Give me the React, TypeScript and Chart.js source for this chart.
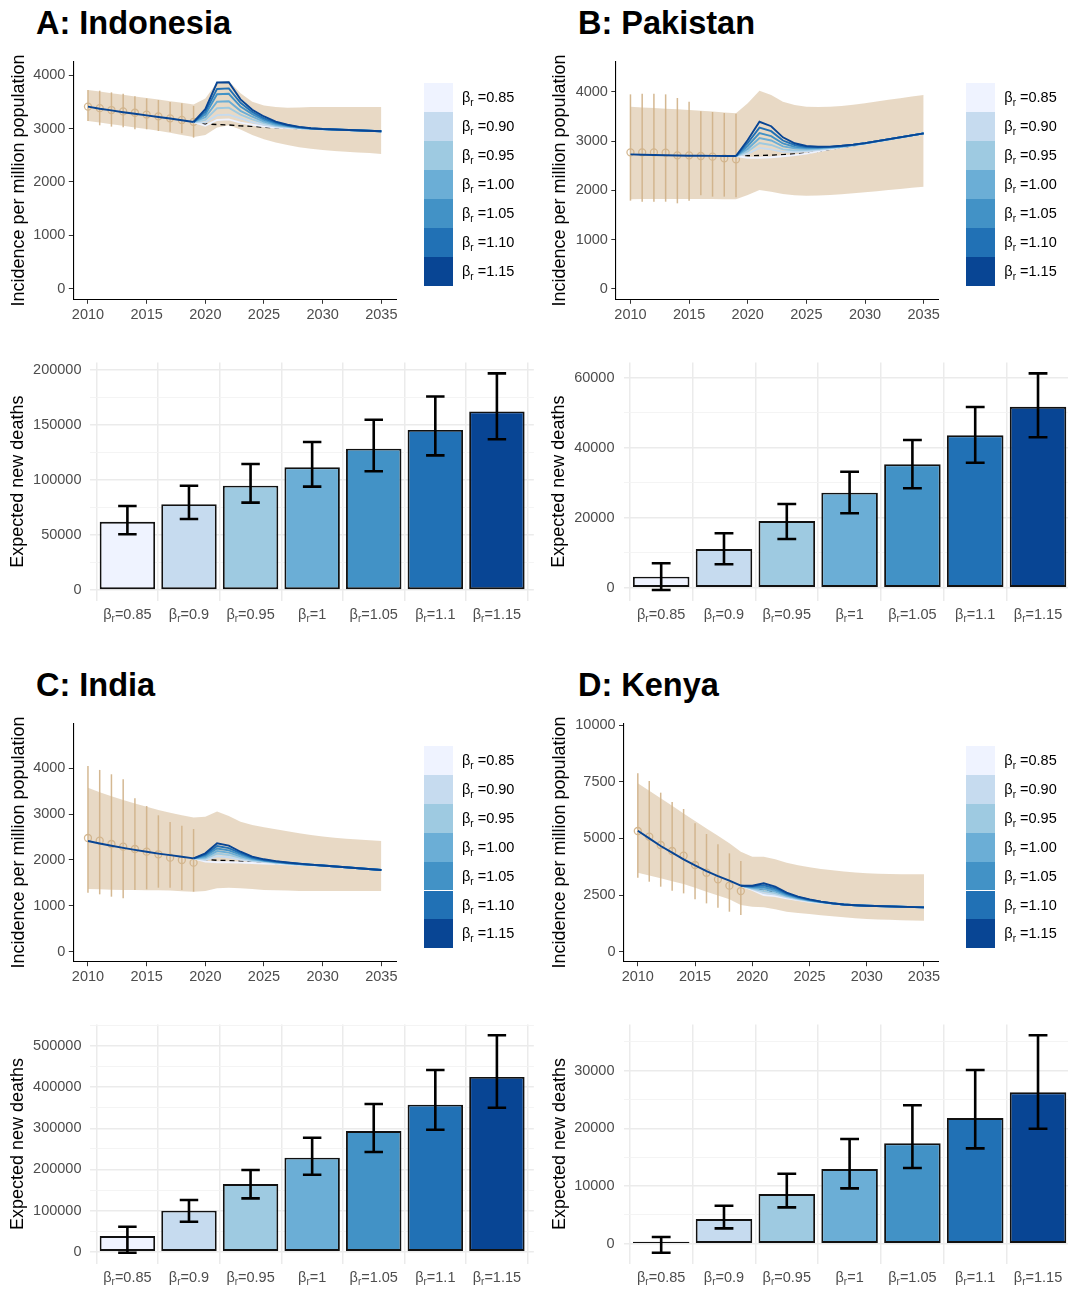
import React, { useEffect, useRef } from 'react';
import { Chart, registerables } from 'chart.js';

Chart.register(...registerables);

const FONT = '"Liberation Sans", Arial, Helvetica, sans-serif';
Chart.defaults.font.family = FONT;

// ---------- shared styling / labels ----------
const BLUES = ['#EFF3FF', '#C6DBEF', '#9ECAE1', '#6BAED6', '#4292C6', '#2171B5', '#084594'];
const BAND_FILL = 'rgba(210,180,140,0.5)';
const OBS_COLOR = 'rgba(210,180,140,0.95)';
const TICK_GREY = '#4D4D4D';

const LEGEND_LABELS = ['0.85', '0.90', '0.95', '1.00', '1.05', '1.10', '1.15'];
const BAR_LABELS = ['0.85', '0.9', '0.95', '1', '1.05', '1.1', '1.15'];

const OBS_YEARS = [2010, 2011, 2012, 2013, 2014, 2015, 2016, 2017, 2018, 2019];
const BAND_YEARS = [2010, 2011, 2012, 2013, 2014, 2015, 2016, 2017, 2018, 2019, 2020, 2021, 2022,
  2023, 2024, 2025, 2026, 2027, 2028, 2029, 2030, 2031, 2032, 2033, 2034, 2035];
const PROJ_YEARS = [2019, 2020, 2021, 2022, 2023, 2024, 2025, 2026, 2027, 2028, 2029, 2030, 2035];
const X_TICKS = [2010, 2015, 2020, 2025, 2030, 2035];
const Y_TICKS_4K = [0, 1000, 2000, 3000, 4000];
const Y_TICKS_10K = [0, 2500, 5000, 7500, 10000];

// ---------- A: Indonesia ----------
const IDN_OBS = [3410, 3380, 3345, 3320, 3295, 3260, 3228, 3190, 3160, 3125];
const IDN_OBS_LO = [3140, 3060, 3035, 3022, 2985, 2985, 2953, 2941, 2910, 2829];
const IDN_OBS_HI = [3720, 3707, 3676, 3651, 3601, 3564, 3533, 3496, 3471, 3421];
const IDN_FIT = [3408, 3370, 3338, 3305, 3275, 3245, 3215, 3188, 3155, 3122];
const IDN_BAND_LO = [3140, 3110, 3080, 3050, 3020, 2990, 2960, 2920, 2880, 2840, 2880, 3020, 3060, 2980,
  2880, 2800, 2740, 2690, 2650, 2620, 2600, 2580, 2565, 2550, 2540, 2525];
const IDN_BAND_HI = [3720, 3690, 3660, 3630, 3600, 3570, 3540, 3510, 3480, 3450, 3560, 3860, 3890, 3660,
  3500, 3430, 3400, 3390, 3395, 3400, 3400, 3400, 3400, 3400, 3400, 3400];
const IDN_DASH = [3122, 3085, 3075, 3065, 3050, 3040, 3025, 3015, 3005, 2998, 2992, 2985, 2950];
const IDN_S085 = [3122, 3050, 3160, 3170, 3110, 3070, 3040, 3020, 3010, 3000, 2992, 2985, 2950];
const IDN_S090 = [3122, 3110, 3250, 3260, 3190, 3120, 3070, 3035, 3020, 3005, 2994, 2986, 2950];
const IDN_S095 = [3122, 3160, 3380, 3390, 3260, 3170, 3100, 3050, 3030, 3010, 2996, 2987, 2950];
const IDN_S100 = [3122, 3210, 3500, 3510, 3330, 3220, 3130, 3070, 3040, 3015, 2998, 2988, 2950];
const IDN_S105 = [3122, 3260, 3640, 3650, 3410, 3270, 3160, 3090, 3050, 3020, 3000, 2989, 2950];
const IDN_S110 = [3122, 3310, 3740, 3750, 3480, 3310, 3190, 3110, 3060, 3025, 3002, 2990, 2950];
const IDN_S115 = [3122, 3360, 3860, 3865, 3545, 3350, 3225, 3130, 3070, 3030, 3005, 2990, 2950];
const IDN_DEATHS = [62000, 78000, 94800, 111500, 128500, 145500, 162400];
const IDN_DEATHS_LO = [50600, 64500, 79400, 94000, 108000, 122400, 137000];
const IDN_DEATHS_HI = [76400, 94800, 114500, 134500, 154800, 176000, 197000];
const IDN_BAR_MAJOR = [0, 50000, 100000, 150000, 200000];
const IDN_BAR_MINOR = [25000, 75000, 125000, 175000];

// ---------- B: Pakistan ----------
const PAK_OBS = [2770, 2770, 2770, 2764, 2710, 2710, 2696, 2683, 2649, 2629];
const PAK_OBS_LO = [1791, 1770, 1770, 1770, 1737, 1791, 1899, 1872, 1872, 1858];
const PAK_OBS_HI = [3946, 3960, 3960, 3946, 3872, 3797, 3601, 3588, 3568, 3554];
const PAK_FIT = [2730, 2722, 2716, 2710, 2705, 2702, 2700, 2698, 2697, 2696];
const PAK_BAND_LO = [1820, 1822, 1823, 1824, 1825, 1825, 1824, 1823, 1820, 1818, 1905, 2007, 1973, 1926,
  1899, 1892, 1895, 1905, 1920, 1940, 1960, 1982, 2005, 2028, 2051, 2074];
const PAK_BAND_HI = [3696, 3680, 3667, 3655, 3642, 3630, 3615, 3600, 3580, 3561, 3764, 4020, 3932, 3797,
  3730, 3696, 3689, 3695, 3710, 3735, 3764, 3800, 3835, 3868, 3900, 3932];
const PAK_DASH = [2696, 2700, 2706, 2714, 2724, 2738, 2755, 2790, 2830, 2868, 2905, 2943, 3150];
const PAK_S085 = [2696, 2660, 2660, 2670, 2690, 2715, 2745, 2790, 2835, 2872, 2908, 2945, 3150];
const PAK_S090 = [2696, 2740, 2860, 2830, 2780, 2780, 2790, 2815, 2845, 2878, 2912, 2948, 3152];
const PAK_S095 = [2696, 2790, 2960, 2920, 2830, 2810, 2815, 2835, 2858, 2884, 2915, 2950, 3153];
const PAK_S100 = [2696, 2840, 3060, 3010, 2890, 2850, 2840, 2850, 2868, 2890, 2918, 2952, 3154];
const PAK_S105 = [2696, 2900, 3160, 3100, 2950, 2880, 2860, 2865, 2876, 2895, 2921, 2954, 3155];
const PAK_S110 = [2696, 2960, 3270, 3200, 3010, 2920, 2880, 2875, 2882, 2900, 2924, 2956, 3155];
const PAK_S115 = [2696, 3020, 3390, 3300, 3075, 2955, 2900, 2885, 2887, 2903, 2926, 2958, 3156];
const PAK_DEATHS = [3140, 11050, 19050, 27140, 35250, 43540, 51700];
const PAK_DEATHS_LO = [-660, 6690, 13910, 21260, 28400, 35710, 42970];
const PAK_DEATHS_HI = [6970, 15540, 23910, 33140, 42200, 51630, 61260];
const PAK_BAR_MAJOR = [0, 20000, 40000, 60000];
const PAK_BAR_MINOR = [10000, 30000, 50000];

// ---------- C: India ----------
const IND_OBS = [2480, 2422, 2349, 2291, 2240, 2182, 2124, 2051, 2000, 1942];
const IND_OBS_LO = [1287, 1251, 1200, 1164, 1345, 1360, 1396, 1396, 1345, 1309];
const IND_OBS_HI = [4051, 3964, 3869, 3760, 3345, 3178, 2975, 2829, 2749, 2676];
const IND_FIT = [2415, 2360, 2310, 2265, 2220, 2180, 2140, 2105, 2070, 2036];
const IND_BAND_LO = [1367, 1360, 1352, 1345, 1343, 1342, 1340, 1335, 1320, 1309, 1324, 1382, 1396, 1385,
  1365, 1345, 1338, 1332, 1326, 1324, 1324, 1324, 1324, 1324, 1324, 1324];
const IND_BAND_HI = [3578, 3480, 3390, 3310, 3230, 3160, 3090, 3030, 2975, 2924, 2945, 3055, 2960, 2836,
  2765, 2713, 2670, 2625, 2585, 2545, 2510, 2485, 2465, 2445, 2430, 2415];
const IND_DASH = [2036, 2010, 1995, 1985, 1970, 1955, 1940, 1925, 1912, 1900, 1888, 1876, 1782];
const IND_S085 = [2036, 1965, 1950, 1950, 1945, 1935, 1925, 1915, 1905, 1895, 1885, 1874, 1782];
const IND_S090 = [2036, 2000, 2080, 2060, 2010, 1975, 1955, 1935, 1918, 1902, 1889, 1876, 1782];
const IND_S095 = [2036, 2030, 2140, 2110, 2045, 1995, 1970, 1945, 1925, 1906, 1891, 1877, 1782];
const IND_S100 = [2036, 2060, 2195, 2160, 2080, 2015, 1980, 1952, 1930, 1910, 1893, 1878, 1782];
const IND_S105 = [2036, 2090, 2250, 2210, 2115, 2035, 1990, 1960, 1935, 1914, 1895, 1879, 1782];
const IND_S110 = [2036, 2115, 2305, 2260, 2150, 2055, 2000, 1968, 1940, 1917, 1897, 1880, 1782];
const IND_S115 = [2036, 2145, 2365, 2313, 2180, 2075, 2015, 1975, 1945, 1920, 1899, 1880, 1782];
const IND_DEATHS = [38200, 99700, 164600, 228500, 293500, 357400, 424800];
const IND_DEATHS_LO = [-2400, 72900, 129800, 187200, 242400, 296600, 350100];
const IND_DEATHS_HI = [60800, 125700, 198600, 277200, 359100, 441800, 526100];
const IND_BAR_MAJOR = [0, 100000, 200000, 300000, 400000, 500000];
const IND_BAR_MINOR = [50000, 150000, 250000, 350000, 450000, 550000];

// ---------- D: Kenya ----------
const KEN_OBS = [5324, 5074, 4706, 4441, 4235, 3824, 3485, 3191, 2912, 2676];
const KEN_OBS_LO = [3265, 3088, 2868, 2691, 2574, 2309, 2132, 1941, 1765, 1618];
const KEN_OBS_HI = [7868, 7529, 7015, 6603, 6294, 5662, 5191, 4735, 4338, 4000];
const KEN_FIT = [5338, 5000, 4662, 4368, 4074, 3809, 3559, 3338, 3132, 2912];
const KEN_BAND_LO = [3485, 3360, 3235, 3110, 2985, 2820, 2650, 2480, 2310, 2060, 1985, 1956, 1868, 1765,
  1710, 1662, 1610, 1565, 1520, 1478, 1441, 1420, 1405, 1390, 1378, 1368];
const KEN_BAND_HI = [7426, 7100, 6770, 6440, 6100, 5770, 5440, 5110, 4780, 4412, 4191, 4191, 4074, 3926,
  3810, 3721, 3650, 3590, 3540, 3495, 3456, 3440, 3430, 3420, 3415, 3412];
const KEN_DASH = [2912, 2800, 2700, 2620, 2480, 2370, 2270, 2190, 2130, 2075, 2050, 2030, 1956];
const KEN_S085 = [2912, 2725, 2500, 2455, 2355, 2280, 2205, 2162, 2120, 2075, 2050, 2030, 1956];
const KEN_S090 = [2912, 2760, 2585, 2525, 2395, 2305, 2223, 2171, 2123, 2076, 2050, 2030, 1956];
const KEN_S095 = [2912, 2790, 2670, 2590, 2440, 2330, 2240, 2180, 2126, 2077, 2051, 2030, 1956];
const KEN_S100 = [2912, 2820, 2760, 2660, 2480, 2355, 2258, 2188, 2129, 2078, 2051, 2030, 1956];
const KEN_S105 = [2912, 2850, 2845, 2730, 2525, 2380, 2276, 2196, 2132, 2079, 2052, 2030, 1956];
const KEN_S110 = [2912, 2880, 2930, 2800, 2565, 2405, 2293, 2203, 2134, 2080, 2052, 2030, 1956];
const KEN_S115 = [2912, 2910, 3015, 2870, 2605, 2430, 2310, 2210, 2135, 2080, 2052, 2030, 1956];
const KEN_DEATHS = [350, 4280, 8610, 12950, 17410, 21800, 26250];
const KEN_DEATHS_LO = [-1560, 2670, 6310, 9600, 13130, 16540, 19940];
const KEN_DEATHS_HI = [1160, 6590, 12140, 18150, 24000, 30120, 36140];
const KEN_BAR_MAJOR = [0, 10000, 20000, 30000];
const KEN_BAR_MINOR = [5000, 15000, 25000, 35000];

// ---------- panel layout ----------
const LINE_PANELS = [
  { id: 'A', canvas: { x: 0, y: 50, w: 540, h: 290 }, plot: { x: 73.3, y: 61.7, w: 322.7, h: 237.6 },
    yMin: -193, yMax: 4249, yTicks: Y_TICKS_4K, titleCenter: 18.9,
    obs: IDN_OBS, obsLo: IDN_OBS_LO, obsHi: IDN_OBS_HI, fit: IDN_FIT, bandLo: IDN_BAND_LO, bandHi: IDN_BAND_HI,
    dash: IDN_DASH, scen: [IDN_S085, IDN_S090, IDN_S095, IDN_S100, IDN_S105, IDN_S110, IDN_S115] },
  { id: 'B', canvas: { x: 540, y: 50, w: 528, h: 290 }, plot: { x: 615.8, y: 61.7, w: 322.5, h: 237.6 },
    yMin: -209, yMax: 4608, yTicks: Y_TICKS_4K, titleCenter: 20.2,
    obs: PAK_OBS, obsLo: PAK_OBS_LO, obsHi: PAK_OBS_HI, fit: PAK_FIT, bandLo: PAK_BAND_LO, bandHi: PAK_BAND_HI,
    dash: PAK_DASH, scen: [PAK_S085, PAK_S090, PAK_S095, PAK_S100, PAK_S105, PAK_S110, PAK_S115] },
  { id: 'C', canvas: { x: 0, y: 710, w: 540, h: 290 }, plot: { x: 73.3, y: 723.3, w: 322.7, h: 238.4 },
    yMin: -218, yMax: 4981, yTicks: Y_TICKS_4K, titleCenter: 18.9,
    obs: IND_OBS, obsLo: IND_OBS_LO, obsHi: IND_OBS_HI, fit: IND_FIT, bandLo: IND_BAND_LO, bandHi: IND_BAND_HI,
    dash: IND_DASH, scen: [IND_S085, IND_S090, IND_S095, IND_S100, IND_S105, IND_S110, IND_S115] },
  { id: 'D', canvas: { x: 540, y: 710, w: 528, h: 290 }, plot: { x: 623.5, y: 723.3, w: 314.8, h: 238.4 },
    yMin: -441, yMax: 10075, yTicks: Y_TICKS_10K, titleCenter: 20.2,
    obs: KEN_OBS, obsLo: KEN_OBS_LO, obsHi: KEN_OBS_HI, fit: KEN_FIT, bandLo: KEN_BAND_LO, bandHi: KEN_BAND_HI,
    dash: KEN_DASH, scen: [KEN_S085, KEN_S090, KEN_S095, KEN_S100, KEN_S105, KEN_S110, KEN_S115] },
];

const BAR_PANELS = [
  { id: 'A', canvas: { x: 0, y: 345, w: 540, h: 300 }, plot: { x: 90.45, y: 362.5, w: 443.4, h: 238.3 },
    yMin: -9850, yMax: 206850, major: IDN_BAR_MAJOR, minor: IDN_BAR_MINOR, titleCenter: 17.6,
    vals: IDN_DEATHS, lo: IDN_DEATHS_LO, hi: IDN_DEATHS_HI },
  { id: 'B', canvas: { x: 540, y: 345, w: 540, h: 300 }, plot: { x: 623.5, y: 362.5, w: 452.2, h: 238.3 },
    yMin: -3756, yMax: 64356, major: PAK_BAR_MAJOR, minor: PAK_BAR_MINOR, titleCenter: 19,
    vals: PAK_DEATHS, lo: PAK_DEATHS_LO, hi: PAK_DEATHS_HI },
  { id: 'C', canvas: { x: 0, y: 1005, w: 540, h: 285 }, plot: { x: 90.45, y: 1024.4, w: 443.4, h: 239.2 },
    yMin: -28825, yMax: 552525, major: IND_BAR_MAJOR, minor: IND_BAR_MINOR, titleCenter: 17.6,
    vals: IND_DEATHS, lo: IND_DEATHS_LO, hi: IND_DEATHS_HI },
  { id: 'D', canvas: { x: 540, y: 1005, w: 540, h: 285 }, plot: { x: 623.5, y: 1024.4, w: 452.2, h: 239.2 },
    yMin: -3445, yMax: 38025, major: KEN_BAR_MAJOR, minor: KEN_BAR_MINOR, titleCenter: 20,
    vals: KEN_DEATHS, lo: KEN_DEATHS_LO, hi: KEN_DEATHS_HI },
];

const TITLES = [
  { text: 'A: Indonesia', x: 36, baseline: 34.3 },
  { text: 'B: Pakistan', x: 578, baseline: 34.3 },
  { text: 'C: India', x: 36, baseline: 696 },
  { text: 'D: Kenya', x: 578, baseline: 696 },
];

const LEGENDS = [
  { x: 423.6, y: 83.3 },
  { x: 965.9, y: 83.3 },
  { x: 423.6, y: 746 },
  { x: 965.9, y: 746 },
];

function margins(c: any, p: any) {
  return {
    l: p.x - c.x,
    t: p.y - c.y,
    r: c.x + c.w - (p.x + p.w),
    b: c.y + c.h - (p.y + p.h),
  };
}

const pts = (xs: number[], ys: number[]) => xs.map((x, i) => ({ x, y: ys[i] }));

function LinePanel({ cfg }: { cfg: any }) {
  const ref = useRef<HTMLCanvasElement>(null);
  useEffect(() => {
    const m = margins(cfg.canvas, cfg.plot);
    const errPlugin = {
      id: 'obsErr' + cfg.id,
      beforeDatasetDraw(chart: any, args: any) {
        if (args.index !== 2) return;
        const { ctx, scales } = chart;
        ctx.save();
        ctx.strokeStyle = OBS_COLOR;
        ctx.lineWidth = 1.5;
        OBS_YEARS.forEach((yr, i) => {
          const px = scales.x.getPixelForValue(yr);
          ctx.beginPath();
          ctx.moveTo(px, scales.y.getPixelForValue(cfg.obsLo[i]));
          ctx.lineTo(px, scales.y.getPixelForValue(cfg.obsHi[i]));
          ctx.stroke();
        });
        ctx.restore();
      },
    };
    const datasets: any[] = [
      { data: pts(BAND_YEARS, cfg.bandLo), borderColor: 'rgba(0,0,0,0)', borderWidth: 0, pointRadius: 0, fill: false, order: 100 },
      { data: pts(BAND_YEARS, cfg.bandHi), borderColor: 'rgba(0,0,0,0)', borderWidth: 0, pointRadius: 0, fill: '-1', backgroundColor: BAND_FILL, order: 99 },
      { data: pts(OBS_YEARS, cfg.obs), showLine: false, pointRadius: 3.5, pointBorderWidth: 1.3, pointBorderColor: OBS_COLOR, pointBackgroundColor: 'rgba(0,0,0,0)', order: 60 },
      { data: pts(PROJ_YEARS, cfg.dash), borderColor: '#000', borderWidth: 1.4, borderDash: [5, 4], pointRadius: 0, fill: false, order: 50 },
      ...cfg.scen.map((s: number[], k: number) => ({
        data: pts(PROJ_YEARS, s), borderColor: BLUES[k], borderWidth: 1.9, pointRadius: 0, fill: false, order: 20 - k,
      })),
      { data: pts(OBS_YEARS, cfg.fit), borderColor: BLUES[6], borderWidth: 1.9, pointRadius: 0, fill: false, order: 1 },
    ];
    const chart = new Chart(ref.current as HTMLCanvasElement, {
      type: 'line',
      data: { datasets },
      options: {
        responsive: false,
        animation: false,
        events: [],
        layout: { padding: { left: 0, top: m.t, right: m.r, bottom: 0 } },
        plugins: { legend: { display: false }, tooltip: { enabled: false } },
        scales: {
          x: {
            type: 'linear', min: 2008.75, max: 2036.25, bounds: 'data',
            afterBuildTicks: (s: any) => { s.ticks = X_TICKS.map((v) => ({ value: v })); },
            afterFit: (s: any) => { s.height = m.b; s.paddingLeft = 0; s.paddingRight = 0; },
            ticks: { callback: (v: any) => String(v), color: TICK_GREY, font: { size: 14.5, family: FONT }, padding: 2, maxRotation: 0, autoSkip: false },
            grid: { drawOnChartArea: false, drawTicks: true, tickLength: 4.5, tickColor: '#333', tickWidth: 1 },
            border: { display: true, color: '#000', width: 1.1 },
          },
          y: {
            type: 'linear', min: cfg.yMin, max: cfg.yMax, bounds: 'data',
            afterBuildTicks: (s: any) => { s.ticks = cfg.yTicks.map((v: number) => ({ value: v })); },
            afterFit: (s: any) => { s.width = m.l; s.paddingTop = 0; s.paddingBottom = 0; },
            ticks: { callback: (v: any) => String(v), color: TICK_GREY, font: { size: 14.5, family: FONT }, padding: 3.4, autoSkip: false },
            grid: { drawOnChartArea: false, drawTicks: true, tickLength: 4.5, tickColor: '#333', tickWidth: 1 },
            border: { display: true, color: '#000', width: 1.1 },
            title: {
              display: true, text: 'Incidence per million population', color: '#000',
              font: { size: 18, family: FONT, lineHeight: 1.2 },
              padding: { top: cfg.titleCenter - 10.8, bottom: 0 },
            },
          },
        },
      } as any,
      plugins: [errPlugin],
    });
    return () => chart.destroy();
  }, []);
  const c = cfg.canvas;
  return (
    <canvas ref={ref} width={c.w} height={c.h}
      style={{ position: 'absolute', left: c.x, top: c.y, width: c.w, height: c.h }} />
  );
}

function BarPanel({ cfg }: { cfg: any }) {
  const ref = useRef<HTMLCanvasElement>(null);
  useEffect(() => {
    const m = margins(cfg.canvas, cfg.plot);
    const positions = BAR_LABELS.map((_, i) => i + 1);
    const allTicks = [...cfg.major, ...cfg.minor].sort((a: number, b: number) => a - b);
    const isMajor = (v: any) => cfg.major.includes(v);
    const barExtras = {
      id: 'barExtras' + cfg.id,
      afterDatasetsDraw(chart: any) {
        const { ctx, scales } = chart;
        const x = scales.x, y = scales.y;
        const half = x.getPixelForValue(1.15) - x.getPixelForValue(1);
        ctx.save();
        ctx.strokeStyle = '#000';
        ctx.lineWidth = 2.6;
        ctx.lineCap = 'butt';
        positions.forEach((pos, i) => {
          const cx = x.getPixelForValue(pos);
          const yl = y.getPixelForValue(cfg.lo[i]);
          const yh = y.getPixelForValue(cfg.hi[i]);
          ctx.beginPath();
          ctx.moveTo(cx, yl); ctx.lineTo(cx, yh);
          ctx.moveTo(cx - half, yl); ctx.lineTo(cx + half, yl);
          ctx.moveTo(cx - half, yh); ctx.lineTo(cx + half, yh);
          ctx.stroke();
        });
        ctx.restore();
      },
      afterDraw(chart: any) {
        const { ctx, scales, chartArea } = chart;
        const y0 = chartArea.bottom + 14.5;
        const big = `14.5px ${FONT}`;
        const small = `10px ${FONT}`;
        ctx.save();
        ctx.fillStyle = TICK_GREY;
        ctx.textBaseline = 'middle';
        ctx.textAlign = 'left';
        BAR_LABELS.forEach((lab, i) => {
          const cx = scales.x.getPixelForValue(positions[i]);
          ctx.font = big;
          const wB = ctx.measureText('β').width;
          const rest = '=' + lab;
          const wRest = ctx.measureText(rest).width;
          ctx.font = small;
          const wR = ctx.measureText('r').width;
          let xx = cx - (wB + wR + wRest) / 2;
          ctx.font = big; ctx.fillText('β', xx, y0); xx += wB;
          ctx.font = small; ctx.fillText('r', xx, y0 + 4); xx += wR;
          ctx.font = big; ctx.fillText(rest, xx, y0);
        });
        ctx.restore();
      },
    };
    const chart = new Chart(ref.current as HTMLCanvasElement, {
      type: 'bar',
      data: {
        datasets: [{
          data: pts(positions, cfg.vals),
          backgroundColor: BLUES,
          borderColor: '#111111',
          borderWidth: 1.9,
          borderSkipped: false,
          categoryPercentage: 1,
          barPercentage: 0.9,
        }],
      },
      options: {
        responsive: false,
        animation: false,
        events: [],
        layout: { padding: { left: 0, top: m.t, right: m.r, bottom: 0 } },
        plugins: { legend: { display: false }, tooltip: { enabled: false } },
        scales: {
          x: {
            type: 'linear', min: 0.4, max: 7.6, bounds: 'data', offset: false,
            afterBuildTicks: (s: any) => { s.ticks = positions.map((v) => ({ value: v })); },
            afterFit: (s: any) => { s.height = m.b; s.paddingLeft = 0; s.paddingRight = 0; },
            ticks: { display: false },
            grid: { display: true, drawOnChartArea: true, drawTicks: false, color: '#EBEBEB', lineWidth: 1.5 },
            border: { display: false },
          },
          y: {
            type: 'linear', min: cfg.yMin, max: cfg.yMax, bounds: 'data',
            afterBuildTicks: (s: any) => { s.ticks = allTicks.map((v: number) => ({ value: v })); },
            afterFit: (s: any) => { s.width = m.l; s.paddingTop = 0; s.paddingBottom = 0; },
            ticks: {
              callback: (v: any) => (isMajor(v) ? String(v) : ''),
              color: TICK_GREY, font: { size: 14.5, family: FONT }, padding: 9, autoSkip: false,
            },
            grid: {
              drawTicks: false,
              color: (ctx: any) => (ctx.tick && isMajor(ctx.tick.value) ? '#EBEBEB' : '#F3F3F3'),
              lineWidth: (ctx: any) => (ctx.tick && isMajor(ctx.tick.value) ? 1.5 : 0.9),
            },
            border: { display: false },
            title: {
              display: true, text: 'Expected new deaths', color: '#000',
              font: { size: 18, family: FONT, lineHeight: 1.2 },
              padding: { top: cfg.titleCenter - 10.8, bottom: 0 },
            },
          },
        },
      } as any,
      plugins: [barExtras],
    });
    return () => chart.destroy();
  }, []);
  const c = cfg.canvas;
  return (
    <canvas ref={ref} width={c.w} height={c.h}
      style={{ position: 'absolute', left: c.x, top: c.y, width: c.w, height: c.h }} />
  );
}

function Legend({ x, y }: { x: number; y: number }) {
  const bw = 29.2;
  const bh = 28.9;
  return (
    <div style={{ position: 'absolute', left: x, top: y }}>
      {BLUES.map((col, i) => (
        <div key={'b' + i} style={{ position: 'absolute', left: 0, top: i * bh, width: bw, height: bh, background: col }} />
      ))}
      {LEGEND_LABELS.map((lab, i) => (
        <div key={'t' + i} style={{
          position: 'absolute', left: 38.4, top: i * bh, height: bh, lineHeight: bh + 'px',
          fontFamily: FONT, fontSize: 14.5, color: '#000', whiteSpace: 'nowrap',
        }}>
          β<span style={{ fontSize: 10, position: 'relative', top: 4 }}>r</span> ={lab}
        </div>
      ))}
    </div>
  );
}

export default function App() {
  return (
    <div style={{ position: 'absolute', left: 0, top: 0, width: 1068, height: 1290, overflow: 'hidden', background: '#fff' }}>
      {TITLES.map((t) => (
        <div key={t.text} style={{
          position: 'absolute', left: t.x, top: t.baseline - 27.5, fontFamily: FONT, fontWeight: 'bold',
          fontSize: 32.5, lineHeight: '32.5px', color: '#000', whiteSpace: 'nowrap',
        }}>{t.text}</div>
      ))}
      {LINE_PANELS.map((p) => <LinePanel key={'l' + p.id} cfg={p} />)}
      {BAR_PANELS.map((p) => <BarPanel key={'b' + p.id} cfg={p} />)}
      {LEGENDS.map((l, i) => <Legend key={'lg' + i} x={l.x} y={l.y} />)}
    </div>
  );
}
